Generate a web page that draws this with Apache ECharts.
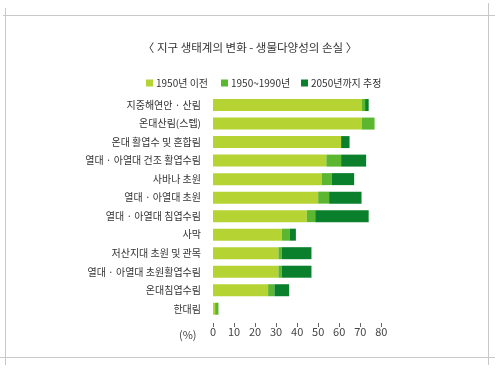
<!DOCTYPE html>
<html><head><meta charset="utf-8">
<script src="https://cdn.jsdelivr.net/npm/echarts@6/dist/echarts.min.js"></script>
<style>html,body{margin:0;padding:0;background:#fff}#c{width:500px;height:370px}</style>
</head><body><div id="c"></div>
<script>
var categories = ['지중해연안 · 산림','온대산림(스텝)','온대 활엽수 및 혼합림','열대 · 아열대 건조 활엽수림','사바나 초원','열대 · 아열대 초원','열대 · 아열대 침엽수림','사막','저산지대 초원 및 관목','열대 · 아열대 초원활엽수림','온대침엽수림','한대림'];
var before1950 = [70.7, 70.7, 60.9, 53.9, 51.6, 50.0, 44.6, 32.7, 31.1, 31.1, 26.2, 1.0];
var y1950to1990 = [1.6, 6.1, 0, 7.0, 4.9, 5.2, 4.0, 3.7, 1.6, 1.6, 3.0, 1.6];
var by2050 = [1.7, 0, 4.0, 11.9, 10.6, 15.4, 25.4, 3.0, 14.1, 14.1, 7.0, 0];
var seriesNames = ['1950년 이전','1950~1990년','2050년까지 추정'];
var xTicks = [0,10,20,30,40,50,60,70,80];
var colors = ['#b5d434','#5bb630','#0a802d'];
var font = '"Noto Sans CJK KR", "Noto Sans", sans-serif';

var chart = echarts.init(document.getElementById('c'), null, {renderer:'canvas'});
var border = {stroke:'#c8c8c8', lineWidth:1};
function legendFor(i, left){
  return {top:73, left:left, itemWidth:7, itemHeight:7, icon:'rect',
    textStyle:{fontSize:10, color:'#333', fontFamily:font, padding:[0,0,0,-2]},
    data:[seriesNames[i]]};
}
chart.setOption({
  animation:false,
  textStyle:{fontFamily:font},
  graphic:[
    {type:'line', shape:{x1:3,y1:15.5,x2:495,y2:15.5}, style:border},
    {type:'line', shape:{x1:0,y1:357.5,x2:495,y2:357.5}, style:border},
    {type:'line', shape:{x1:5.5,y1:8,x2:5.5,y2:365}, style:border},
    {type:'line', shape:{x1:488.5,y1:3,x2:488.5,y2:365}, style:border},
    {type:'text', left:179, top:329, style:{text:'(%)', fontSize:11, fill:'#444', fontFamily:font}}
  ],
  title:{text:'〈 지구 생태계의 변화 - 생물다양성의 손실 〉', left:'center', top:37,
    textStyle:{fontSize:11.5, fontWeight:'normal', color:'#333', fontFamily:font}},
  legend:[legendFor(0,141), legendFor(1,216), legendFor(2,296)],
  grid:{left:213, right:118.7, top:95.8, bottom:52},
  xAxis:{type:'value', min:0, max:80, interval:10, offset:5,
    axisLine:{show:false}, splitLine:{show:false},
    axisTick:{show:true, length:4, lineStyle:{color:'#666'}},
    axisLabel:{color:'#444', fontSize:11, margin:3, fontFamily:font,
      formatter:function(v){return xTicks.indexOf(v)>=0 ? String(v) : '';}}},
  yAxis:{type:'category', inverse:true, data:categories,
    axisLine:{show:false}, axisTick:{show:false},
    axisLabel:{color:'#333', fontSize:10, margin:12, fontFamily:font}},
  series:[
    {name:seriesNames[0], type:'bar', stack:'a', barWidth:12, data:before1950, itemStyle:{color:colors[0]}},
    {name:seriesNames[1], type:'bar', stack:'a', barWidth:12, data:y1950to1990, itemStyle:{color:colors[1]}},
    {name:seriesNames[2], type:'bar', stack:'a', barWidth:12, data:by2050, itemStyle:{color:colors[2]}}
  ]
});
</script></body></html>
